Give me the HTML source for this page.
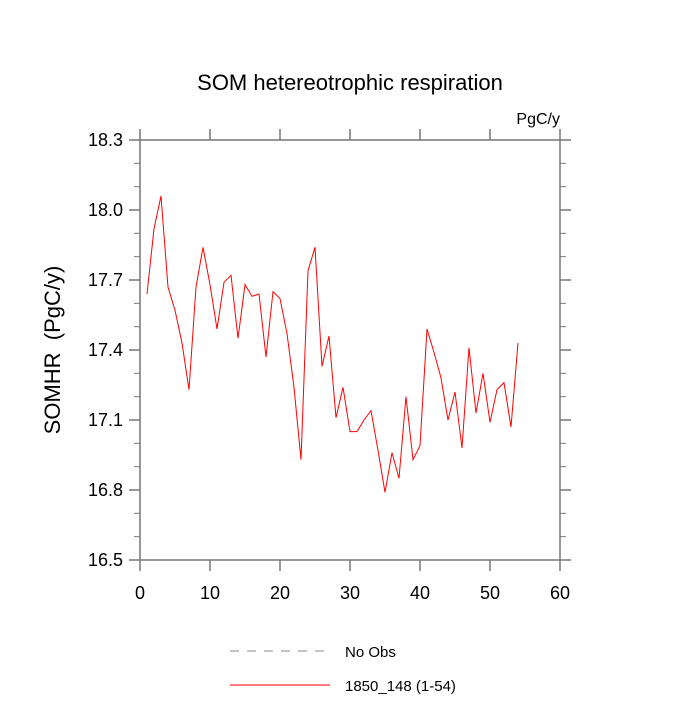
<!DOCTYPE html>
<html><head><meta charset="utf-8"><style>
body{margin:0;background:#fff;}
svg text{font-family:"Liberation Sans",sans-serif;}
</style></head><body>
<svg width="700" height="700" xmlns="http://www.w3.org/2000/svg" id="chart">
<text x="350" y="90" font-size="22" text-anchor="middle">SOM hetereotrophic respiration</text>
<text x="560" y="124" font-size="16" text-anchor="end">PgC/y</text>
<text transform="translate(60,350) rotate(-90)" font-size="22" text-anchor="middle" style="white-space:pre">SOMHR  (PgC/y)</text>
<g id="axes"></g>
<g id="series"></g>
<g>
<line x1="230" y1="651" x2="330" y2="651" stroke="#888" stroke-width="1" stroke-dasharray="9,8"/>
<text x="345" y="657" font-size="15">No Obs</text>
<line x1="230" y1="685" x2="330" y2="685" stroke="red" stroke-width="1"/>
<text x="345" y="691" font-size="15">1850_148 (1-54)</text>
</g>
</svg>
<script>
const xTicks=[0,10,20,30,40,50,60];
const yTicks=[16.5,16.8,17.1,17.4,17.7,18.0,18.3];
const yTickLabels=["16.5","16.8","17.1","17.4","17.7","18.0","18.3"];
const years=[];for(let i=1;i<=54;i++)years.push(i);
const values=[17.64,17.92,18.06,17.67,17.57,17.43,17.23,17.67,17.84,17.68,17.49,17.69,17.72,17.45,17.68,17.63,17.64,17.37,17.65,17.62,17.47,17.24,16.93,17.74,17.84,17.33,17.46,17.11,17.24,17.05,17.05,17.10,17.14,16.97,16.79,16.96,16.85,17.20,16.93,16.99,17.49,17.39,17.28,17.10,17.22,16.98,17.41,17.13,17.30,17.09,17.23,17.26,17.07,17.43];
const L=140,R=560,T=140,B=560;
const sx=v=>L+(v-0)/(60-0)*(R-L);
const sy=v=>B-(v-16.5)/(18.3-16.5)*(B-T);
const NS="http://www.w3.org/2000/svg";
const ax=document.getElementById('axes');
function mk(tag,attrs,parent){const e=document.createElementNS(NS,tag);for(const k in attrs)e.setAttribute(k,attrs[k]);parent.appendChild(e);return e;}
const c="#777";
const frame=mk('rect',{x:L,y:T,width:R-L,height:B-T,fill:'none',stroke:c,'stroke-width':1.5},ax);


xTicks.forEach(t=>{
 const x=sx(t);
 const a=mk('line',{x1:x,y1:B,x2:x,y2:B+11,stroke:c,'stroke-width':1.5},ax);
 
 
 const b=mk('line',{x1:x,y1:T,x2:x,y2:T-11,stroke:c,'stroke-width':1.5},ax);
 
 
 const tx=mk('text',{x:x,y:B+39,'font-size':18,'text-anchor':'middle'},ax);
 tx.textContent=t;
 
 
});
yTicks.forEach((t,i)=>{
 const y=sy(t);
 const a=mk('line',{x1:L,y1:y,x2:L-11,y2:y,stroke:c,'stroke-width':1.5},ax);
 
 
 const b=mk('line',{x1:R,y1:y,x2:R+11,y2:y,stroke:c,'stroke-width':1.5},ax);
 
 
 const tx=mk('text',{x:L-17,y:y+6,'font-size':18,'text-anchor':'end'},ax);
 tx.textContent=yTickLabels[i];
 
 
 if(i<yTicks.length-1){[0.1,0.2].forEach(d=>{
  const ym=sy(t+d);
  const m1=mk('line',{x1:L,y1:ym,x2:L-6,y2:ym,stroke:c,'stroke-width':1},ax);
  
  
  const m2=mk('line',{x1:R,y1:ym,x2:R+6,y2:ym,stroke:c,'stroke-width':1},ax);
  
  
 });}
});
const pts=years.map((x,i)=>sx(x).toFixed(2)+','+sy(values[i]).toFixed(2)).join(' ');
const pl=mk('polyline',{points:pts,fill:'none',stroke:'red','stroke-width':1},document.getElementById('series'));


</script>
</body></html>
